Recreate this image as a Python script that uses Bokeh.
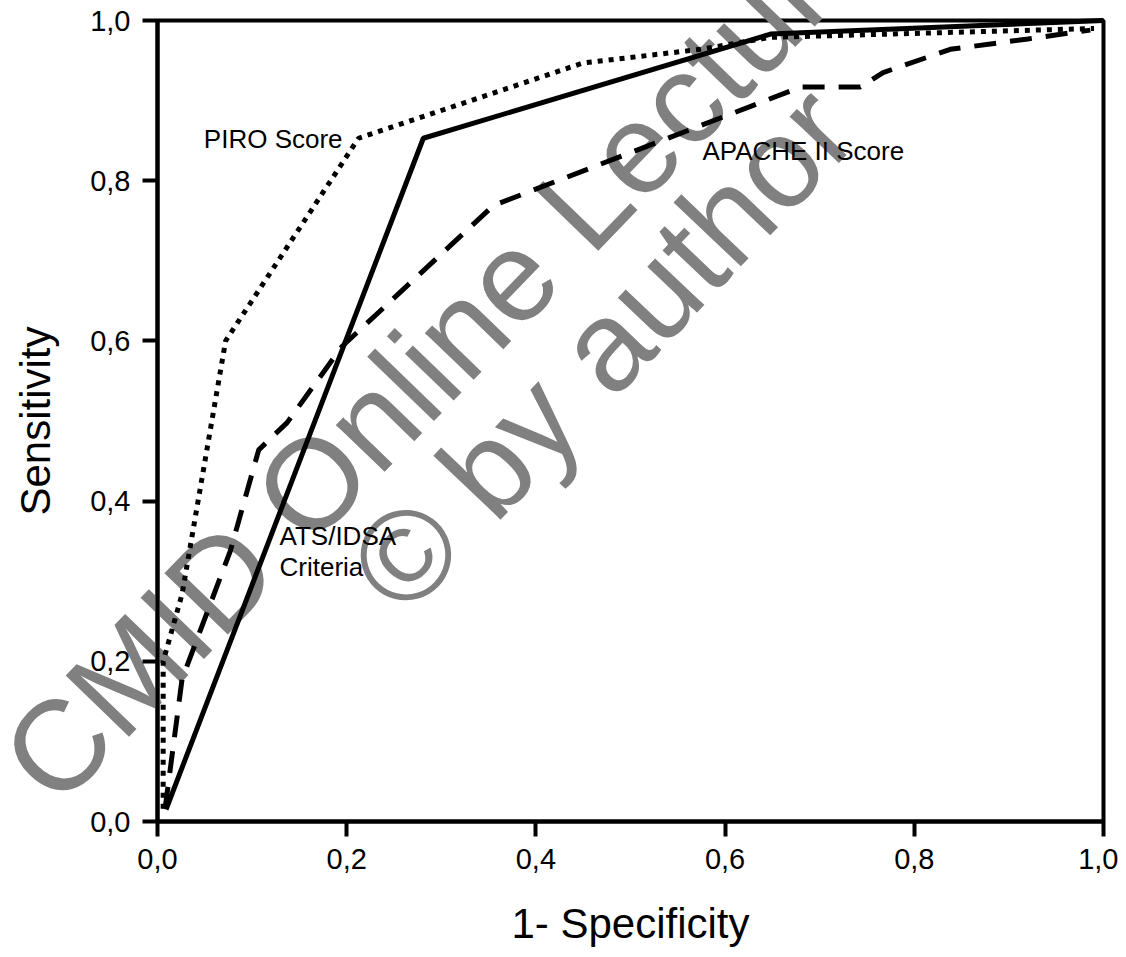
from bokeh.plotting import figure
from bokeh.models import Range1d, FixedTicker, CustomJSTickFormatter
from bokeh.core.properties import value
from bokeh.embed import file_html
from bokeh.resources import INLINE

# ROC curves (1 - specificity, sensitivity)
piro_x = [0.006, 0.006, 0.026, 0.072, 0.2125, 0.45, 0.574, 0.648, 0.99]
piro_y = [0.016, 0.2, 0.284, 0.6, 0.853, 0.947, 0.964, 0.979, 0.99]

ats_x = [0.009, 0.281, 0.648, 1.0]
ats_y = [0.015, 0.853, 0.983, 1.0]

apache_x = [0.008, 0.026, 0.077, 0.107, 0.137, 0.195, 0.355, 0.68, 0.743, 0.767, 0.838, 0.92, 0.962, 0.986]
apache_y = [0.016, 0.178, 0.338, 0.464, 0.498, 0.593, 0.769, 0.917, 0.917, 0.935, 0.964, 0.977, 0.984, 0.988]

ticks = [0.0, 0.2, 0.4, 0.6, 0.8, 1.0]

curve_labels = ["PIRO Score", "APACHE II Score", "ATS/IDSA", "Criteria"]
label_x = [0.049, 0.576, 0.129, 0.129]
label_y = [0.852, 0.837, 0.357, 0.318]

watermark_text = ["CMID Online Lecture", "\u00a9 by author"]
watermark_x = [-0.1395, 0.228]
watermark_y = [0.052, 0.290]
watermark_angle = [46, 46.5]

FONT = "Liberation Sans"

p = figure(width=1118, height=949, output_backend="svg", toolbar_location=None,
           x_range=Range1d(0, 1), y_range=Range1d(0, 1),
           min_border_left=157, min_border_right=15, min_border_top=20,
           min_border_bottom=118)

p.background_fill_color = "white"
p.border_fill_color = "white"
p.outline_line_color = "black"
p.outline_line_width = 4
p.grid.visible = False

fmt = CustomJSTickFormatter(code="return tick.toFixed(1).replace('.', ',');")
for ax in (p.xaxis[0], p.yaxis[0]):
    ax.ticker = FixedTicker(ticks=ticks)
    ax.formatter = fmt
    ax.axis_line_width = 4
    ax.axis_line_color = "black"
    ax.major_tick_line_width = 4
    ax.major_tick_line_color = "black"
    ax.major_tick_out = 15
    ax.major_tick_in = 0
    ax.minor_tick_line_color = None
    ax.major_label_text_font = FONT
    ax.major_label_text_font_size = "29px"
    ax.major_label_text_color = "black"
    ax.axis_label_text_font = FONT
    ax.axis_label_text_font_style = "normal"
    ax.axis_label_text_color = "black"

p.xaxis.axis_label = "1- Specificity"
p.yaxis.axis_label = "Sensitivity"
p.xaxis.axis_label_text_font_size = "42px"
p.yaxis.axis_label_text_font_size = "42px"
p.xaxis.major_label_standoff = 12
p.yaxis.major_label_standoff = 12
p.xaxis.axis_label_standoff = 28
p.yaxis.axis_label_standoff = 28

# watermark as a text glyph at guide level (not clipped to the frame)
wm = p.text(x=watermark_x, y=watermark_y, text=watermark_text, angle=watermark_angle,
            angle_units="deg", text_font=value(FONT), text_font_size="128px",
            text_color="#808080", text_align="left", text_baseline="alphabetic")
wm.level = "guide"

r1 = p.line(piro_x, piro_y, line_color="black", line_width=5, line_dash="5 6", line_cap="butt")
r2 = p.line(apache_x, apache_y, line_color="black", line_width=5, line_dash="22 14", line_cap="butt")
r3 = p.line(ats_x, ats_y, line_color="black", line_width=5)

r4 = p.text(x=label_x, y=label_y, text=curve_labels, text_font=value(FONT),
            text_font_size="26px", text_color="black", text_align="left",
            text_baseline="alphabetic")
for r in (r1, r2, r3, r4):
    r.level = "annotation"

open("out.html", "w").write(file_html(p, INLINE))
